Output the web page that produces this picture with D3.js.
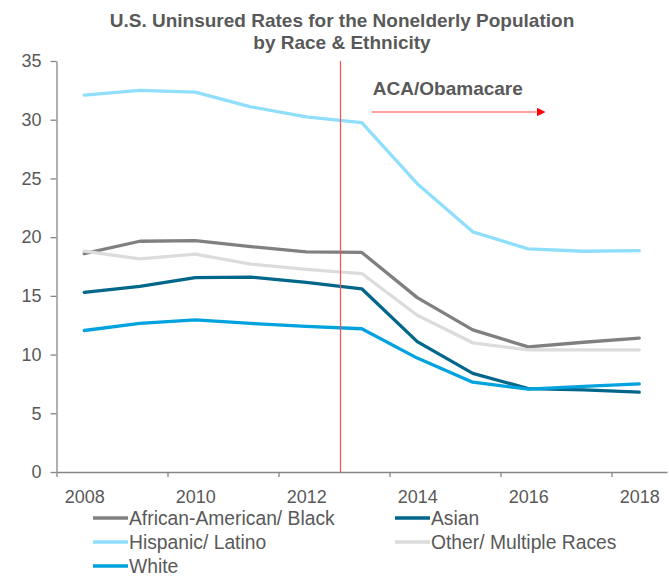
<!DOCTYPE html>
<html>
<head>
<meta charset="utf-8">
<script src="https://cdn.jsdelivr.net/npm/d3@7"></script>
<style>
  body { margin: 0; background: #fff; }
  svg { font-family: "Liberation Sans", Arial, sans-serif; }
</style>
</head>
<body>
<div id="chart"></div>
<script>
// data
const years = [2008, 2009, 2010, 2011, 2012, 2013, 2014, 2015, 2016, 2017, 2018];
const yearLabels = [2008, 2010, 2012, 2014, 2016, 2018];
const yTicks = [0, 5, 10, 15, 20, 25, 30, 35];

const black    = [18.6, 19.65, 19.7, 19.2, 18.75, 18.7, 14.85, 12.1, 10.65, 11.05, 11.4];
const asian    = [15.3, 15.8, 16.55, 16.6, 16.15, 15.6, 11.1, 8.4, 7.1, 7.0, 6.8];
const hispanic = [32.1, 32.5, 32.35, 31.1, 30.25, 29.75, 24.55, 20.45, 19.0, 18.8, 18.85];
const other    = [18.8, 18.15, 18.55, 17.7, 17.25, 16.9, 13.35, 11.0, 10.4, 10.4, 10.4];
const white    = [12.05, 12.65, 12.95, 12.65, 12.4, 12.2, 9.7, 7.65, 7.05, 7.3, 7.5];

const seriesNames  = ["African-American/ Black", "Asian", "Hispanic/ Latino", "Other/ Multiple Races", "White"];
const seriesValues = [black, asian, hispanic, other, white];
const seriesColors = ["#808080", "#00678a", "#8fdffc", "#dcdcdc", "#00a3dd"];

const acaYear = 2012.6;          // where the red marker sits
const acaLabel = "ACA/Obamacare";

const width = 669, height = 582;
const margin = { left: 56.5, right: 667, top: 61, bottom: 472 };
const textColor = "#595959", axisColor = "#868686";

const svg = d3.select("#chart").append("svg")
    .attr("width", width)
    .attr("height", height);

// years are categories, so the scale runs half a year past each end
const x = d3.scaleLinear().domain([2007.5, 2018.5]).range([margin.left, margin.right]);
const y = d3.scaleLinear().domain([0, 35]).range([margin.bottom, margin.top]);

// title
svg.append("text")
    .attr("x", 342).attr("y", 27)
    .attr("text-anchor", "middle")
    .attr("font-size", 19).attr("font-weight", "bold")
    .attr("fill", textColor)
    .selectAll("tspan")
    .data(["U.S. Uninsured Rates for the Nonelderly Population", "by Race & Ethnicity"])
    .join("tspan")
      .attr("x", 342)
      .attr("dy", (d, i) => i ? 22 : 0)
      .text(d => d);

// y axis
const yAxis = svg.append("g")
    .attr("transform", `translate(${margin.left},0)`)
    .call(d3.axisLeft(y).tickValues(yTicks).tickSize(6).tickPadding(9).tickSizeOuter(0));

// x axis: tick marks between the categories, labels on the even years
const xAxis = svg.append("g")
    .attr("transform", `translate(0,${margin.bottom})`)
    .call(d3.axisBottom(x).tickValues(yearLabels.map(d => d - 0.5)).tickSize(5).tickSizeOuter(0).tickFormat(""));

const xLabels = svg.append("g")
    .attr("transform", `translate(0,${margin.bottom})`)
    .call(d3.axisBottom(x).tickValues(yearLabels).tickSize(0).tickPadding(18).tickFormat(d3.format("d")));
xLabels.select(".domain").remove();

[yAxis, xAxis].forEach(g => {
  g.select(".domain").attr("stroke", axisColor).attr("stroke-width", 1.3);
  g.selectAll(".tick line").attr("stroke", axisColor).attr("stroke-width", 1.3);
});
[yAxis, xLabels].forEach(g => {
  g.selectAll(".tick text").attr("fill", textColor).attr("font-size", 18)
    .attr("font-family", "'Liberation Sans', Arial, sans-serif");
});

// series lines
const line = d3.line()
    .x((d, i) => x(years[i]))
    .y(d => y(d));

svg.append("g")
  .selectAll("path")
  .data(seriesValues)
  .join("path")
    .attr("d", line)
    .attr("fill", "none")
    .attr("stroke", (d, i) => seriesColors[i])
    .attr("stroke-width", 3.3)
    .attr("stroke-linejoin", "round")
    .attr("stroke-linecap", "round");

// ACA marker
const acaX = Math.round(x(acaYear)) + 0.5;
svg.append("line")
    .attr("x1", acaX).attr("x2", acaX)
    .attr("y1", y(35)).attr("y2", y(0))
    .attr("stroke", "#ff5050").attr("stroke-width", 1.2);

svg.append("text")
    .attr("x", x(2013.2)).attr("y", y(32.1))
    .attr("font-size", 19).attr("font-weight", "bold")
    .attr("fill", textColor)
    .text(acaLabel);

svg.append("defs").append("marker")
    .attr("id", "arrow")
    .attr("viewBox", "0 0 10 10")
    .attr("refX", 0).attr("refY", 5)
    .attr("markerWidth", 9).attr("markerHeight", 9)
    .attr("markerUnits", "userSpaceOnUse")
    .attr("orient", "auto")
  .append("path")
    .attr("d", "M0,0L10,5L0,10Z")
    .attr("fill", "#ff0000");

svg.append("line")
    .attr("x1", x(2013.18)).attr("x2", x(2016.15))
    .attr("y1", y(30.65)).attr("y2", y(30.65))
    .attr("stroke", "#ff8080").attr("stroke-width", 1.5)
    .attr("marker-end", "url(#arrow)");

// legend
const legend = svg.append("g")
  .selectAll("g")
  .data(seriesNames)
  .join("g")
    .attr("transform", (d, i) => `translate(${i % 2 ? 395 : 93},${518 + Math.floor(i / 2) * 24})`);

legend.append("line")
    .attr("x1", 0).attr("x2", 35)
    .attr("stroke", (d, i) => seriesColors[i])
    .attr("stroke-width", 3.5);

legend.append("text")
    .attr("x", 36).attr("dy", "0.35em")
    .attr("font-size", 19.3)
    .attr("fill", textColor)
    .text(d => d);
</script>
</body>
</html>
